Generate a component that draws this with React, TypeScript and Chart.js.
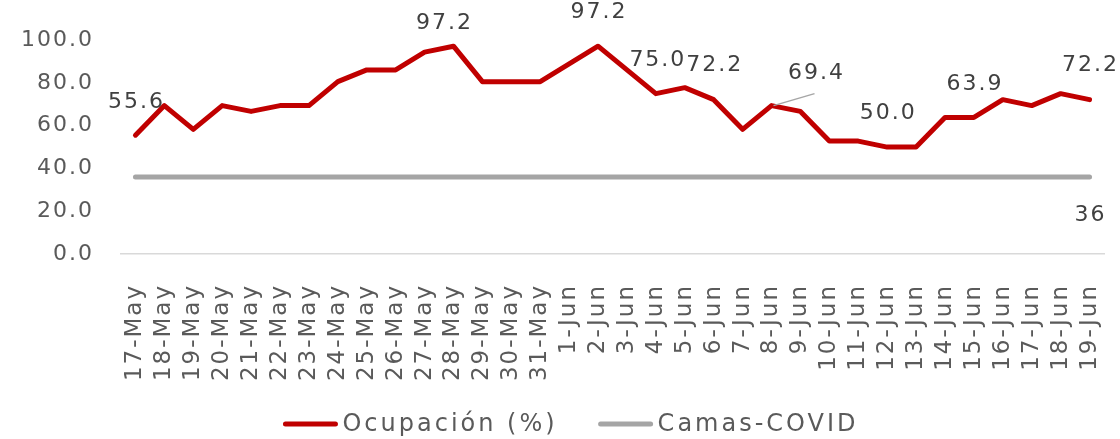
import React, { useEffect, useRef } from "react";
import { Chart, registerables } from "chart.js";

Chart.register(...registerables);

const categories = [
  "17-May", "18-May", "19-May", "20-May", "21-May", "22-May", "23-May", "24-May",
  "25-May", "26-May", "27-May", "28-May", "29-May", "30-May", "31-May",
  "1-Jun", "2-Jun", "3-Jun", "4-Jun", "5-Jun", "6-Jun", "7-Jun", "8-Jun", "9-Jun",
  "10-Jun", "11-Jun", "12-Jun", "13-Jun", "14-Jun", "15-Jun", "16-Jun", "17-Jun",
  "18-Jun", "19-Jun",
];

const ocupacion = [
  55.6, 69.4, 58.3, 69.4, 66.7, 69.4, 69.4, 80.6, 86.1, 86.1, 94.4, 97.2, 80.6, 80.6, 80.6,
  88.9, 97.2, 86.1, 75.0, 77.8, 72.2, 58.3, 69.4, 66.7, 52.8, 52.8, 50.0, 50.0, 63.9, 63.9,
  72.2, 69.4, 75.0, 72.2,
];

const camasCovid = [
  36, 36, 36, 36, 36, 36, 36, 36, 36, 36, 36, 36, 36, 36, 36, 36, 36,
  36, 36, 36, 36, 36, 36, 36, 36, 36, 36, 36, 36, 36, 36, 36, 36, 36,
];

const seriesNames = ["Ocupación (%)", "Camas-COVID"];

// which points carry a value label (dataset, point index), plus label placement
const labelledPoints = [
  { ds: 0, i: 0, dx: 0, dy: -33, decimals: 1 },
  { ds: 0, i: 11, dx: -10, dy: -23, decimals: 1 },
  { ds: 0, i: 16, dx: 0, dy: -34, decimals: 1 },
  { ds: 0, i: 18, dx: 1, dy: -33, decimals: 1 },
  { ds: 0, i: 20, dx: 0, dy: -34, decimals: 1 },
  { ds: 0, i: 22, dx: 44, dy: -32, decimals: 1, leader: true },
  { ds: 0, i: 26, dx: 0, dy: -34, decimals: 1 },
  { ds: 0, i: 29, dx: 0, dy: -33, decimals: 1 },
  { ds: 0, i: 33, dx: 0, dy: -34, decimals: 1 },
  { ds: 1, i: 33, dx: 0, dy: 38, decimals: 0 },
];

const FONT = "'DejaVu Sans', sans-serif";
const TEXT = "#5a5a5a";
const RED = "#C00000";
const GRAY = "#A5A5A5";

export default function App() {
  const ref = useRef<HTMLCanvasElement>(null);

  useEffect(() => {
    document.body.style.margin = "0";
    document.body.style.overflow = "hidden";
    const canvas = ref.current;
    if (!canvas) return;

    const spacing = {
      id: "spacing",
      beforeUpdate(chart: any) {
        chart.ctx.letterSpacing = "2px";
      },
      beforeDraw(chart: any) {
        chart.ctx.letterSpacing = "2px";
      },
    };

    const valueLabels = {
      id: "valueLabels",
      afterDatasetsDraw(chart: any) {
        const ctx = chart.ctx;
        ctx.save();
        ctx.font = `22px ${FONT}`;
        ctx.fillStyle = "#404040";
        ctx.textAlign = "center";
        ctx.textBaseline = "middle";
        for (const l of labelledPoints) {
          const el = chart.getDatasetMeta(l.ds).data[l.i];
          const v = chart.data.datasets[l.ds].data[l.i] as number;
          const text = v.toFixed(l.decimals);
          if ((l as any).leader) {
            ctx.save();
            ctx.strokeStyle = "#A6A6A6";
            ctx.lineWidth = 1.5;
            ctx.beginPath();
            ctx.moveTo(el.x + 2, el.y);
            ctx.lineTo(el.x + l.dx - 1, el.y + l.dy + 20);
            ctx.stroke();
            ctx.restore();
          }
          ctx.fillText(text, el.x + l.dx + 1, el.y + l.dy);
        }
        ctx.restore();
      },
    };

    const legend = {
      id: "customLegend",
      afterDraw(chart: any) {
        const ctx = chart.ctx;
        ctx.save();
        ctx.font = `24px ${FONT}`;
        ctx.letterSpacing = "3px";
        ctx.textBaseline = "middle";
        ctx.textAlign = "left";
        ctx.fillStyle = TEXT;
        const lineW = 56;
        const gap = 4;
        const between = 40;
        const items = chart.data.datasets.map((d: any) => ({
          text: d.label,
          color: d.borderColor,
          w: ctx.measureText(d.label).width,
        }));
        const total =
          items.reduce((s: number, it: any) => s + lineW + gap + it.w, 0) +
          between * (items.length - 1);
        let x = 570.5 - total / 2;
        const y = 424;
        for (const it of items) {
          ctx.strokeStyle = it.color;
          ctx.lineWidth = 5;
          ctx.lineCap = "round";
          ctx.beginPath();
          ctx.moveTo(x + 3, y);
          ctx.lineTo(x + lineW - 3, y);
          ctx.stroke();
          ctx.fillText(it.text, x + lineW + gap, y + 1);
          x += lineW + gap + it.w + between;
        }
        ctx.restore();
      },
    };

    const chart = new Chart(canvas, {
      type: "line",
      data: {
        labels: categories,
        datasets: [
          {
            label: seriesNames[0],
            data: ocupacion,
            borderColor: RED,
            backgroundColor: RED,
            borderWidth: 5,
            pointRadius: 0,
            tension: 0,
            borderCapStyle: "round",
            borderJoinStyle: "round",
          },
          {
            label: seriesNames[1],
            data: camasCovid,
            borderColor: GRAY,
            backgroundColor: GRAY,
            borderWidth: 5,
            pointRadius: 0,
            tension: 0,
            borderCapStyle: "round",
            borderJoinStyle: "round",
          },
        ],
      },
      options: {
        responsive: false,
        animation: false,
        devicePixelRatio: 1,
        layout: { padding: { top: 40, right: 16, left: 0, bottom: 0 } },
        plugins: {
          legend: { display: false },
          tooltip: { enabled: false },
          title: { display: false },
        },
        scales: {
          x: {
            type: "category",
            offset: true,
            grid: { display: false, drawTicks: false },
            border: { display: true, color: "#D9D9D9", width: 1.5 },
            ticks: {
              autoSkip: false,
              minRotation: 90,
              maxRotation: 90,
              padding: 30,
              color: TEXT,
              font: { family: FONT, size: 23 },
            },
            afterFit: (s: any) => {
              s.height = 185;
              s.paddingRight = 0;
              s.paddingLeft = 0;
            },
          },
          y: {
            min: 0,
            max: 100,
            grid: { display: false, drawTicks: false },
            border: { display: false },
            ticks: {
              stepSize: 20,
              padding: 27,
              color: TEXT,
              font: { family: FONT, size: 22 },
              callback: (v: any) => Number(v).toFixed(1),
            },
            afterFit: (s: any) => {
              s.width = 121;
            },
          },
        },
      },
      plugins: [spacing, valueLabels, legend],
    } as any);

    return () => chart.destroy();
  }, []);

  return (
    <div style={{ width: 1120, height: 439 }}>
      <canvas ref={ref} width={1120} height={439} style={{ display: "block" }} />
    </div>
  );
}
